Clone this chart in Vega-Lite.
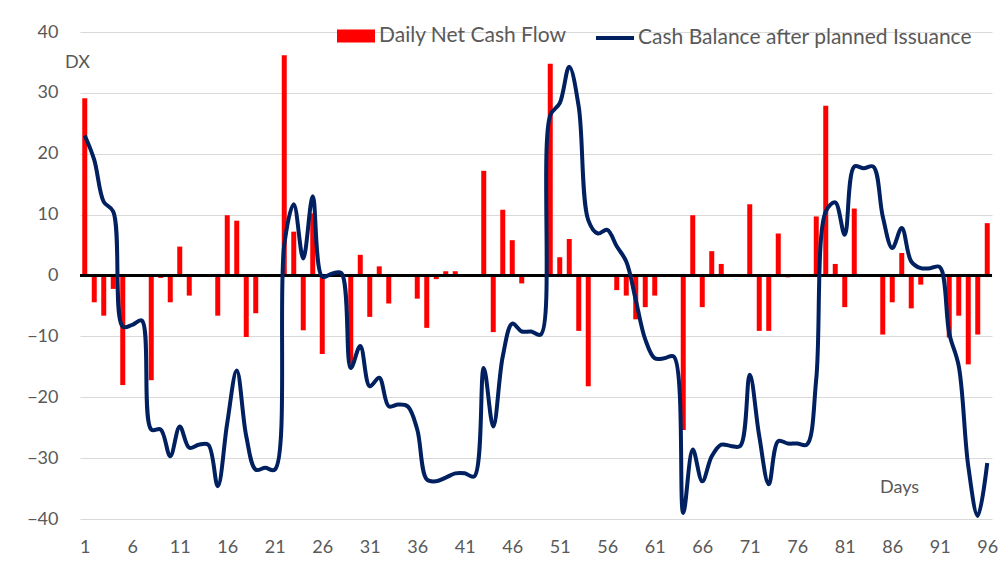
{
  "$schema": "https://vega.github.io/schema/vega-lite/v6.json",
  "width": 912,
  "height": 487,
  "autosize": {"type": "none"},
  "padding": {"left": 80, "top": 32, "right": 16, "bottom": 60},
  "background": "white",
  "config": {
    "view": {"stroke": null},
    "font": "Lato",
    "axis": {"labelFont": "Lato", "labelColor": "#595959", "labelFontSize": 18, "titleFont": "Lato", "titleColor": "#595959", "titleFontSize": 18, "titleFontWeight": "normal"},
    "legend": {"labelFont": "Lato", "labelColor": "#595959", "labelFontSize": 21, "labelLimit": 0}
  },
  "data": {"values": [
    {"day": 1, "flow": 29.1, "balance": 23.0},
    {"day": 2, "flow": -4.4, "balance": 19.0},
    {"day": 3, "flow": -6.6, "balance": 12.1},
    {"day": 4, "flow": -2.2, "balance": 10.5},
    {"day": 5, "flow": -18.0, "balance": -8.4},
    {"day": 6, "flow": 0, "balance": -8.1},
    {"day": 7, "flow": 0, "balance": -7.4},
    {"day": 8, "flow": -17.2, "balance": -25.3},
    {"day": 9, "flow": -0.4, "balance": -25.3},
    {"day": 10, "flow": -4.4, "balance": -29.7},
    {"day": 11, "flow": 4.75, "balance": -24.8},
    {"day": 12, "flow": -3.3, "balance": -28.3},
    {"day": 13, "flow": 0, "balance": -27.8},
    {"day": 14, "flow": 0, "balance": -27.8},
    {"day": 15, "flow": -6.6, "balance": -34.6},
    {"day": 16, "flow": 9.9, "balance": -24.2},
    {"day": 17, "flow": 9.0, "balance": -15.6},
    {"day": 18, "flow": -10.1, "balance": -26.4},
    {"day": 19, "flow": -6.2, "balance": -31.9},
    {"day": 20, "flow": 0, "balance": -31.6},
    {"day": 21, "flow": 0, "balance": -31.9},
    {"day": 22, "flow": 36.2, "balance": 5.0},
    {"day": 23, "flow": 7.2, "balance": 11.7},
    {"day": 24, "flow": -9.0, "balance": 2.8},
    {"day": 25, "flow": 10.2, "balance": 13.0},
    {"day": 26, "flow": -12.9, "balance": -0.2},
    {"day": 27, "flow": 0, "balance": 0.3},
    {"day": 28, "flow": 0, "balance": 0.4},
    {"day": 29, "flow": -14.5, "balance": -15.2},
    {"day": 30, "flow": 3.4, "balance": -11.6},
    {"day": 31, "flow": -6.8, "balance": -18.2},
    {"day": 32, "flow": 1.5, "balance": -16.8},
    {"day": 33, "flow": -4.6, "balance": -21.5},
    {"day": 34, "flow": 0, "balance": -21.2},
    {"day": 35, "flow": 0, "balance": -21.5},
    {"day": 36, "flow": -3.8, "balance": -25.3},
    {"day": 37, "flow": -8.6, "balance": -33.5},
    {"day": 38, "flow": -0.6, "balance": -33.8},
    {"day": 39, "flow": 0.7, "balance": -33.2},
    {"day": 40, "flow": 0.7, "balance": -32.5},
    {"day": 41, "flow": 0, "balance": -32.5},
    {"day": 42, "flow": 0, "balance": -33.0},
    {"day": 43, "flow": 17.2, "balance": -15.2},
    {"day": 44, "flow": -9.3, "balance": -24.8},
    {"day": 45, "flow": 10.8, "balance": -13.3},
    {"day": 46, "flow": 5.8, "balance": -7.9},
    {"day": 47, "flow": -1.3, "balance": -9.2},
    {"day": 48, "flow": 0, "balance": -9.2},
    {"day": 49, "flow": 0, "balance": -9.7},
    {"day": 50, "flow": 34.8, "balance": 26.3},
    {"day": 51, "flow": 3.0, "balance": 28.3},
    {"day": 52, "flow": 6.0, "balance": 34.3},
    {"day": 53, "flow": -9.1, "balance": 27.7},
    {"day": 54, "flow": -18.2, "balance": 9.1},
    {"day": 55, "flow": 0, "balance": 6.9},
    {"day": 56, "flow": 0, "balance": 7.5},
    {"day": 57, "flow": -2.4, "balance": 4.8},
    {"day": 58, "flow": -3.3, "balance": 2.3},
    {"day": 59, "flow": -7.2, "balance": -4.0},
    {"day": 60, "flow": -5.2, "balance": -10.5},
    {"day": 61, "flow": -3.3, "balance": -13.6},
    {"day": 62, "flow": 0, "balance": -13.6},
    {"day": 63, "flow": 0, "balance": -13.3},
    {"day": 64, "flow": -25.4, "balance": -39.0},
    {"day": 65, "flow": 9.9, "balance": -28.6},
    {"day": 66, "flow": -5.2, "balance": -33.8},
    {"day": 67, "flow": 4.0, "balance": -29.7},
    {"day": 68, "flow": 1.9, "balance": -27.8},
    {"day": 69, "flow": 0, "balance": -28.0},
    {"day": 70, "flow": 0, "balance": -28.0},
    {"day": 71, "flow": 11.7, "balance": -16.3},
    {"day": 72, "flow": -9.1, "balance": -26.4},
    {"day": 73, "flow": -9.1, "balance": -34.3},
    {"day": 74, "flow": 6.9, "balance": -27.2},
    {"day": 75, "flow": -0.3, "balance": -27.6},
    {"day": 76, "flow": 0, "balance": -27.6},
    {"day": 77, "flow": 0, "balance": -27.8},
    {"day": 78, "flow": 9.7, "balance": -17.0},
    {"day": 79, "flow": 27.9, "balance": 10.5},
    {"day": 80, "flow": 1.9, "balance": 12.0},
    {"day": 81, "flow": -5.2, "balance": 6.7},
    {"day": 82, "flow": 11.0, "balance": 17.9},
    {"day": 83, "flow": 0, "balance": 17.6},
    {"day": 84, "flow": 0, "balance": 17.9},
    {"day": 85, "flow": -9.7, "balance": 9.7},
    {"day": 86, "flow": -4.4, "balance": 4.5},
    {"day": 87, "flow": 3.7, "balance": 7.8},
    {"day": 88, "flow": -5.4, "balance": 2.3},
    {"day": 89, "flow": -1.5, "balance": 1.2},
    {"day": 90, "flow": 0, "balance": 1.2},
    {"day": 91, "flow": 0, "balance": 1.4},
    {"day": 92, "flow": -10.2, "balance": -9.5},
    {"day": 93, "flow": -6.6, "balance": -14.9},
    {"day": 94, "flow": -14.6, "balance": -31.3},
    {"day": 95, "flow": -9.7, "balance": -39.5},
    {"day": 96, "flow": 8.6, "balance": -30.8}
  ]},
  "layer": [
    {
      "mark": {"type": "bar", "width": 5},
      "encoding": {
        "x": {"field": "day", "type": "quantitative",
          "scale": {"domain": [0.5, 96.5], "nice": false, "zero": false, "padding": 0},
          "axis": {"values": [1, 6, 11, 16, 21, 26, 31, 36, 41, 46, 51, 56, 61, 66, 71, 76, 81, 86, 91, 96],
            "grid": false, "domain": false, "ticks": false, "tickSize": 0, "labelPadding": 19,
            "title": "Days", "titleX": 819, "titleY": -32, "titleAlign": "center", "titleBaseline": "middle"}},
        "y": {"field": "flow", "type": "quantitative",
          "scale": {"domain": [-40, 40], "nice": false},
          "axis": {"values": [-40, -30, -20, -10, 0, 10, 20, 30, 40], "grid": true, "gridColor": "#d9d9d9", "gridWidth": 1,
            "domain": false, "ticks": false, "tickSize": 0, "labelPadding": 22,
            "title": "DX", "titleAngle": 0, "titleX": -3, "titleY": 30, "titleAlign": "center", "titleBaseline": "middle"}},
        "fill": {"datum": "Daily Net Cash Flow", "type": "nominal", "scale": {"range": ["#FF0000"]},
          "legend": {"title": null, "orient": "none", "legendX": 257, "legendY": -15, "padding": 0,
            "symbolType": "M-1,-0.342H1V0.342H-1Z", "symbolSize": 1444, "symbolStrokeWidth": 0, "labelOffset": 4}}
      }
    },
    {
      "mark": {"type": "rule", "color": "#000000", "strokeWidth": 1.5},
      "encoding": {"y": {"datum": 0}}
    },
    {
      "mark": {"type": "line", "interpolate": "catmull-rom", "strokeWidth": 4},
      "encoding": {
        "x": {"field": "day", "type": "quantitative"},
        "y": {"field": "balance", "type": "quantitative"},
        "stroke": {"datum": "Cash Balance after planned Issuance", "type": "nominal", "scale": {"range": ["#002060"]},
          "legend": {"title": null, "orient": "none", "legendX": 514, "legendY": -15, "padding": 0,
            "symbolType": "stroke", "symbolSize": 1444, "symbolStrokeWidth": 4, "labelOffset": 2}}
      }
    }
  ]
}
